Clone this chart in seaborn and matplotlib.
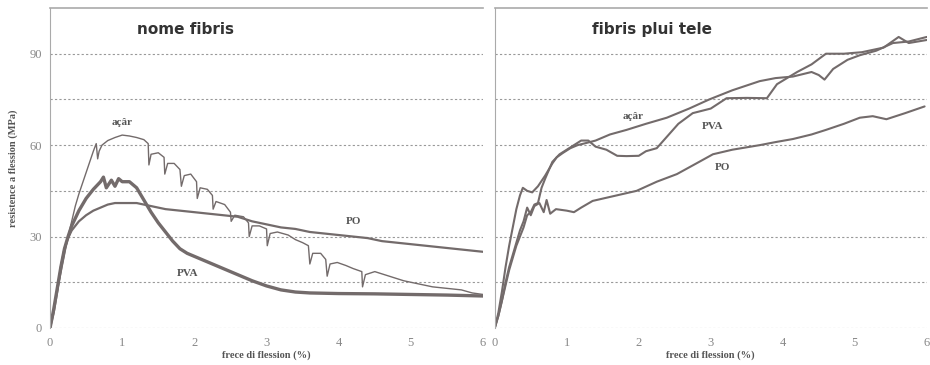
import pandas as pd
import seaborn as sns
import matplotlib.pyplot as plt

# left panel: "nome fibris"
acar_l_x = [0, 0.05, 0.1, 0.15, 0.2, 0.25, 0.3, 0.35, 0.4, 0.45, 0.5, 0.55, 0.6, 0.64, 0.66, 0.68, 0.72, 0.8, 0.9, 1.0,
            1.1, 1.2, 1.3, 1.36, 1.37, 1.4, 1.5, 1.58, 1.59, 1.63, 1.72, 1.8, 1.82, 1.86, 1.95, 2.03, 2.04, 2.08, 2.18,
            2.25, 2.26, 2.3, 2.42, 2.5, 2.51, 2.56, 2.68, 2.75, 2.76, 2.8, 2.9, 3.0, 3.01, 3.05, 3.15, 3.3, 3.4, 3.5,
            3.58, 3.6, 3.64, 3.75, 3.82, 3.84, 3.88, 3.98, 4.1, 4.2, 4.32, 4.33, 4.37, 4.5, 4.7, 4.9, 5.1, 5.3, 5.5,
            5.7, 5.85, 6.0]
acar_l_y = [0, 6, 12, 18, 24, 30, 35, 40, 44, 47.5, 51, 54.5, 58, 60.5, 55.5, 58, 60, 61.5, 62.5, 63.3,
            63, 62.5, 61.8, 60.5, 53.5, 57, 57.5, 56, 50.5, 54, 54, 52, 46.5, 50, 50.5, 48, 42.5, 46, 45.5,
            43.5, 39, 41.5, 40.5, 38, 35, 37, 36.5, 34.5, 30, 33.5, 33.5, 32.5, 27, 31, 31.5, 30.5, 29, 28,
            27, 21, 24.5, 24.5, 22.5, 17, 21, 21.5, 20.5, 19.5, 18.5, 13.5, 17.5, 18.5, 17, 15.5, 14.5, 13.5, 13,
            12.5, 11.5, 11]

po_l_x = [0, 0.05, 0.1, 0.15, 0.2, 0.25, 0.3, 0.4, 0.5, 0.6, 0.7, 0.8, 0.9, 1.0, 1.1, 1.2, 1.3, 1.4, 1.5, 1.6,
          1.8, 2.0, 2.2, 2.4, 2.6, 2.8, 3.0, 3.2, 3.4, 3.6, 3.8, 4.0, 4.2, 4.4, 4.6, 4.8, 5.0, 5.2, 5.4, 5.6, 5.8, 6.0]
po_l_y = [0, 5, 12, 20, 26, 29.5, 32, 35, 37, 38.5, 39.5, 40.5, 41, 41, 41, 41, 40.5, 40, 39.5, 39,
          38.5, 38, 37.5, 37, 36.5, 35, 34, 33, 32.5, 31.5, 31, 30.5, 30, 29.5, 28.5, 28, 27.5, 27, 26.5, 26, 25.5, 25]

pva_l_x = [0, 0.05, 0.1, 0.15, 0.2, 0.25, 0.3, 0.4, 0.5, 0.6, 0.7, 0.74, 0.78, 0.85, 0.9, 0.95, 1.0, 1.1, 1.2, 1.3,
           1.4, 1.5, 1.6, 1.7, 1.8, 1.9, 2.0, 2.2, 2.4, 2.6, 2.8, 3.0, 3.2, 3.4, 3.6, 4.0, 4.5, 5.0, 5.5, 6.0]
pva_l_y = [0, 6, 13, 20, 26, 30, 33.5, 38.5, 42.5, 45.5, 48, 49.5, 46, 48.5, 46.5, 49, 48, 48, 46, 42,
           38, 34.5, 31.5, 28.5, 26, 24.5, 23.5, 21.5, 19.5, 17.5, 15.5, 13.8, 12.5, 11.8, 11.5, 11.3, 11.2, 11, 10.8, 10.5]

# right panel: "fibris plui tele"
acar_r_x = [0, 0.05, 0.1, 0.15, 0.2, 0.25, 0.3, 0.35, 0.39, 0.45, 0.52, 0.6, 0.7, 0.8, 0.86, 0.95, 1.05, 1.15, 1.27,
            1.4, 1.6, 1.83, 2.1, 2.39, 2.7, 2.98, 3.3, 3.68, 3.9, 4.14, 4.4, 4.5, 4.58, 4.7, 4.9, 5.07, 5.3, 5.53,
            5.75, 6.0]
acar_r_y = [0, 5, 12, 20, 27, 33, 39, 43.5, 46, 45, 44.5, 46.5, 50, 54, 56, 57.5, 59, 60, 60.7,
            61.5, 63.5, 65, 67, 69, 72, 75, 78, 81, 82, 82.5, 84, 83, 81.5, 85, 88, 89.5, 91, 93.5,
            94, 95.5]

pva_r_x = [0, 0.05, 0.1, 0.15, 0.2, 0.3, 0.4, 0.45, 0.5, 0.55, 0.6, 0.65, 0.7, 0.8, 0.9, 1.0, 1.1, 1.2, 1.3, 1.4,
           1.55, 1.7, 1.83, 2.0, 2.1, 2.25, 2.4, 2.55, 2.75, 3.0, 3.22, 3.5, 3.78, 3.92, 4.2, 4.4, 4.6, 4.85, 5.1,
           5.4, 5.61, 5.75, 6.0]
pva_r_y = [0, 4, 9, 14, 19, 27, 33, 37, 38, 40.5, 41, 46, 49, 54.5, 57, 58.5, 60, 61.5, 61.5, 59.5,
           58.5, 56.5, 56.4, 56.5, 58, 59, 63, 67, 70.5, 72, 75.4, 75.5, 75.4, 80, 84, 86.5, 90, 90, 90.5,
           92, 95.5, 93.5, 94.5]

po_r_x = [0, 0.05, 0.1, 0.15, 0.2, 0.25, 0.3, 0.35, 0.4, 0.45, 0.5, 0.55, 0.62, 0.68, 0.72, 0.77, 0.85, 1.0, 1.1,
          1.2, 1.36, 1.6, 1.97, 2.25, 2.53, 2.8, 3.03, 3.3, 3.68, 3.9, 4.14, 4.4, 4.6, 4.85, 5.07, 5.25, 5.44,
          5.7, 5.97]
po_r_y = [0, 4, 9, 15, 20, 24, 28, 32, 35, 39.5, 37, 40, 41, 38, 42, 37.5, 39, 38.5, 38,
          39.5, 41.7, 43, 45, 48, 50.5, 54, 57, 58.5, 60, 61, 62, 63.5, 65, 67, 69, 69.5, 68.5,
          70.5, 72.7]

panel_titles = ["nome fibris", "fibris plui tele"]
x_label = "frece di flession (%)"
y_label = "resistence a flession (MPa)"

GREY = "#736b6b"
TXT = "#555555"

sns.set_style("white")

fig = plt.figure(figsize=(9.3, 3.65), dpi=100)
ax_l = fig.add_axes([0.0538, 0.1014, 0.4656, 0.8767])
ax_r = fig.add_axes([0.532, 0.1014, 0.4645, 0.8767])

panels = [
    (ax_l, [(acar_l_x, acar_l_y, 1.0), (po_l_x, po_l_y, 1.6), (pva_l_x, pva_l_y, 2.4)],
     [("açâr", 1.0, 67.5), ("PO", 4.2, 35), ("PVA", 1.9, 18)], 0.20),
    (ax_r, [(acar_r_x, acar_r_y, 1.5), (pva_r_x, pva_r_y, 1.5), (po_r_x, po_r_y, 1.5)],
     [("açâr", 1.92, 69.5), ("PVA", 3.03, 66), ("PO", 3.17, 52.5)], 0.225),
]

for i, (ax, series, labels, title_x) in enumerate(panels):
    for xs, ys, lw in series:
        df = pd.DataFrame({"x": xs, "y": ys})
        sns.lineplot(data=df, x="x", y="y", ax=ax, sort=False, estimator=None,
                     color=GREY, linewidth=lw)
    for txt, tx, ty in labels:
        ax.text(tx, ty, txt, fontsize=8, fontweight="bold", color=TXT,
                family="Liberation Serif", ha="center", va="center")

    ax.set_xlim(0, 6)
    ax.set_ylim(0, 105)
    ax.set_yticks(range(0, 91, 15))
    ax.set_xticks(range(0, 7))
    ax.grid(axis="y", linestyle=(0, (2, 2)), color="#999999", linewidth=0.8)
    ax.grid(axis="x", visible=False)
    for s in ["right", "bottom"]:
        ax.spines[s].set_visible(False)
    ax.spines["left"].set_color("#aaaaaa")
    ax.spines["top"].set_color("#aaaaaa")
    ax.spines["top"].set_linewidth(1.2)
    ax.tick_params(axis="both", length=3, color="#999999", labelcolor="#888888", labelsize=9)
    ax.tick_params(axis="y", direction="inout", length=5)
    for lab in ax.get_xticklabels() + ax.get_yticklabels():
        lab.set_family("Liberation Serif")
    ax.set_xlabel(x_label, fontsize=7.5, fontweight="bold", color=TXT,
                  family="Liberation Serif", labelpad=1)
    ax.text(title_x, 0.932, panel_titles[i], transform=ax.transAxes, ha="left", va="center",
            fontsize=11, fontweight="bold", color="#333333", family="DejaVu Sans")

ax_l.set_yticklabels(["0", "", "30", "", "60", "", "90"])
ax_l.set_ylabel(y_label, fontsize=7.5, fontweight="bold", color=TXT,
                family="Liberation Serif", labelpad=8)
ax_r.set_yticklabels([])
ax_r.set_ylabel("")

fig.savefig("out.png", dpi=100)
